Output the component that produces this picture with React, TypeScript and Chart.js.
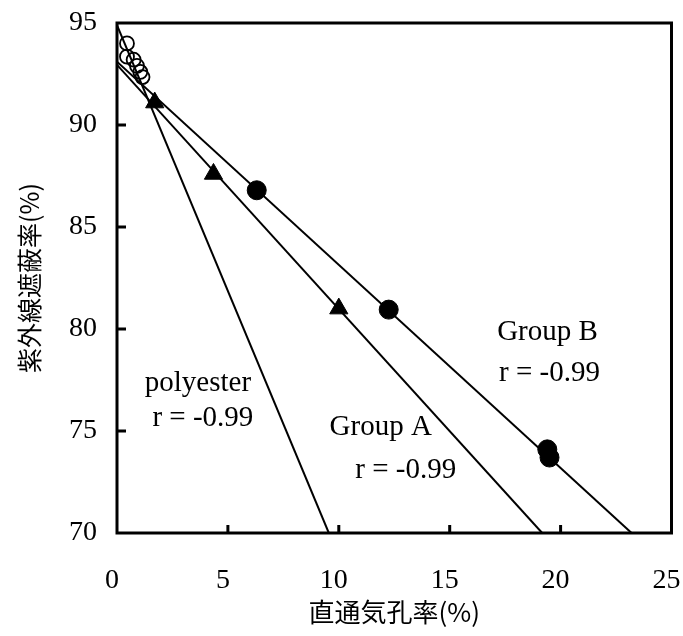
import React, { useEffect, useRef } from "react";
import { Chart, registerables } from "chart.js";

Chart.register(...registerables);

// polyester samples (open circles)
const polyesterX = [0.45, 0.45, 0.75, 0.9, 1.05, 1.15];
const polyesterY = [94.0, 93.35, 93.2, 92.9, 92.6, 92.35];

// Group A samples (filled triangles)
const groupAX = [1.7, 4.35, 10.0];
const groupAY = [91.1, 87.6, 81.0];

// Group B samples (filled circles)
const groupBX = [6.3, 12.25, 19.4, 19.5];
const groupBY = [86.8, 80.95, 74.1, 73.7];

// regression lines: [start, end] points
const polyesterLineX = [0, 9.55];
const polyesterLineY = [94.9, 70];
const groupALineX = [0, 19.17];
const groupALineY = [92.95, 70];
const groupBLineX = [0, 23.2];
const groupBLineY = [93.1, 70];

const xTicks = [0, 5, 10, 15, 20, 25];
const yTicks = [70, 75, 80, 85, 90, 95];

// text labels placed in data coordinates
const labelTexts = ["polyester", "r = -0.99", "Group A", "r = -0.99", "Group B", "r = -0.99"];
const labelX = [3.65, 3.87, 11.89, 13.02, 19.41, 19.5];
const labelY = [77.35, 75.64, 75.2, 73.09, 79.85, 77.84];

const SERIF = "'Liberation Serif', 'Times New Roman', serif";
const CJK = "'Noto Sans CJK JP', sans-serif";

const zip = (xs: number[], ys: number[]) => xs.map((x, i) => ({ x, y: ys[i] }));

const framePlugin = {
  id: "frameAndTicks",
  afterDatasetsDraw(chart: any) {
    const { ctx, chartArea, scales } = chart;
    const { left, right, top, bottom } = chartArea;
    ctx.save();
    ctx.strokeStyle = "#000";
    ctx.lineWidth = 3;
    ctx.strokeRect(left, top, right - left, bottom - top);
    // inward tick marks
    ctx.beginPath();
    xTicks.slice(1, -1).forEach((v) => {
      const px = scales.x.getPixelForValue(v);
      ctx.moveTo(px, bottom);
      ctx.lineTo(px, bottom - 8);
    });
    yTicks.slice(1, -1).forEach((v) => {
      const py = scales.y.getPixelForValue(v);
      ctx.moveTo(left, py);
      ctx.lineTo(left + 9, py);
    });
    ctx.stroke();
    // annotations
    ctx.fillStyle = "#000";
    ctx.font = `29px ${SERIF}`;
    ctx.textAlign = "center";
    ctx.textBaseline = "middle";
    labelTexts.forEach((t, i) => {
      ctx.fillText(t, scales.x.getPixelForValue(labelX[i]), scales.y.getPixelForValue(labelY[i]));
    });
    ctx.restore();
  },
};

export default function App() {
  const ref = useRef<HTMLCanvasElement>(null);

  useEffect(() => {
    if (!ref.current) return;
    const lineStyle = {
      type: "line" as const,
      showLine: true,
      borderColor: "#000",
      borderWidth: 2,
      pointRadius: 0,
      fill: false,
    };
    const chart = new Chart(ref.current, {
      type: "scatter",
      data: {
        datasets: [
          { ...lineStyle, label: "polyester fit", data: zip(polyesterLineX, polyesterLineY) },
          { ...lineStyle, label: "Group A fit", data: zip(groupALineX, groupALineY) },
          { ...lineStyle, label: "Group B fit", data: zip(groupBLineX, groupBLineY) },
          {
            label: "polyester",
            data: zip(polyesterX, polyesterY),
            pointStyle: "circle",
            pointRadius: 7,
            backgroundColor: "rgba(0,0,0,0)",
            borderColor: "#000",
            borderWidth: 1.8,
          },
          {
            label: "Group A",
            data: zip(groupAX, groupAY),
            pointStyle: "triangle",
            pointRadius: 10.5,
            backgroundColor: "#000",
            borderColor: "#000",
            borderWidth: 1,
          },
          {
            label: "Group B",
            data: zip(groupBX, groupBY),
            pointStyle: "circle",
            pointRadius: 9.5,
            backgroundColor: "#000",
            borderColor: "#000",
            borderWidth: 1,
          },
        ],
      },
      options: {
        responsive: false,
        animation: false,
        layout: { padding: { left: 0, top: 23, right: 11, bottom: 0 } },
        plugins: { legend: { display: false }, tooltip: { enabled: false } },
        scales: {
          x: {
            type: "linear",
            min: 0,
            max: 25,
            afterBuildTicks: (s: any) => {
              s.ticks = xTicks.map((v) => ({ value: v }));
            },
            afterFit: (s: any) => {
              s.height = 103;
              s.paddingLeft = 0;
              s.paddingRight = 0;
            },
            grid: { display: false },
            border: { display: false },
            ticks: {
              color: "#000",
              padding: 23,
              maxRotation: 0,
              labelOffset: -5,
              font: { family: SERIF, size: 28 },
            },
            title: {
              display: true,
              text: "直通気孔率(%)",
              color: "#000",
              font: { family: CJK, size: 26 },
              padding: { top: 0, bottom: 8 },
            },
          },
          y: {
            type: "linear",
            min: 70,
            max: 95,
            afterBuildTicks: (s: any) => {
              s.ticks = yTicks.map((v) => ({ value: v }));
            },
            afterFit: (s: any) => {
              s.width = 117;
              s.paddingTop = 0;
              s.paddingBottom = 0;
            },
            grid: { display: false },
            border: { display: false },
            ticks: { color: "#000", padding: 12, font: { family: SERIF, size: 28 } },
            title: {
              display: true,
              text: "紫外線遮蔽率(%)",
              color: "#000",
              font: { family: CJK, size: 25 },
              padding: { top: 14, bottom: 0 },
            },
          },
        },
      },
      plugins: [framePlugin],
    });
    return () => chart.destroy();
  }, []);

  return (
    <div style={{ position: "fixed", left: 0, top: 0, width: 683, height: 636, background: "#fff" }}>
      <canvas ref={ref} width={683} height={636} style={{ display: "block" }} />
    </div>
  );
}
